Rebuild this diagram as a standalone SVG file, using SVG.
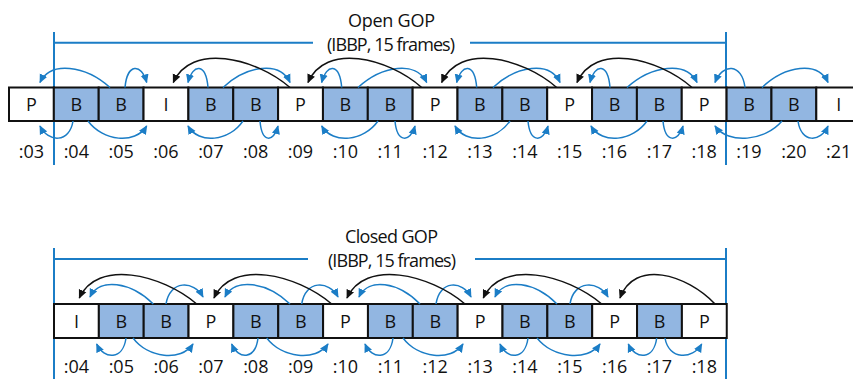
<svg xmlns="http://www.w3.org/2000/svg" width="853" height="379" viewBox="0 0 853 379">
<defs>
<marker id="ab" viewBox="0 0 10 10" refX="9" refY="5" markerWidth="9" markerHeight="9" markerUnits="userSpaceOnUse" orient="auto"><path d="M0,0.5 L10,5 L0,9.5 z" fill="#1b7dc6"/></marker>
<marker id="ak" viewBox="0 0 10 10" refX="9" refY="5" markerWidth="9" markerHeight="9" markerUnits="userSpaceOnUse" orient="auto"><path d="M0,0.5 L10,5 L0,9.5 z" fill="#111"/></marker>
</defs>
<style>
.f{stroke:#111;stroke-width:2}
.w{fill:#fff}
.b{fill:#92b6e1}
.t{font-family:"Open Sans","Liberation Sans",sans-serif;font-size:18px;fill:#111;text-anchor:middle}
.br{stroke:#1b7dc6;stroke-width:2;fill:none}
.cb{stroke:#1b7dc6;stroke-width:1.5;fill:none;marker-end:url(#ab)}
.ck{stroke:#111;stroke-width:1.5;fill:none;marker-end:url(#ak)}
</style>
<rect width="853" height="379" fill="#fff"/>

<g id="open-gop-bracket">
<path class="br" d="M54,32 V165 M726,32 V165 M54,42.7 H313 M470,42.7 H726"/>
<text class="t" x="391.5" y="26.7" textLength="87">Open GOP</text>
<text class="t" x="391" y="51" textLength="128">(IBBP, 15 frames)</text>
</g>
<g id="closed-gop-bracket">
<path class="br" d="M54,248 V379 M726,248 V379 M54,259 H308 M475,259 H726"/>
<text class="t" x="391.5" y="243.3" textLength="93">Closed GOP</text>
<text class="t" x="392" y="267" textLength="128">(IBBP, 15 frames)</text>
</g>

<g id="top-row">
<g id="t03"><rect class="f w" x="9" y="87.5" width="44.85" height="33.5"/><text class="t" x="31.4" y="110.5">P</text><text class="t" x="31.4" y="157.5">:03</text></g>
<g id="t04"><rect class="f b" x="53.85" y="87.5" width="44.85" height="33.5"/><text class="t" x="76.3" y="110.5">B</text><text class="t" x="76.3" y="157.5">:04</text></g>
<g id="t05"><rect class="f b" x="98.7" y="87.5" width="44.85" height="33.5"/><text class="t" x="121.1" y="110.5">B</text><text class="t" x="121.1" y="157.5">:05</text></g>
<g id="t06"><rect class="f w" x="143.55" y="87.5" width="44.85" height="33.5"/><text class="t" x="166" y="110.5">I</text><text class="t" x="166" y="157.5">:06</text></g>
<g id="t07"><rect class="f b" x="188.4" y="87.5" width="44.85" height="33.5"/><text class="t" x="210.8" y="110.5">B</text><text class="t" x="210.8" y="157.5">:07</text></g>
<g id="t08"><rect class="f b" x="233.25" y="87.5" width="44.85" height="33.5"/><text class="t" x="255.7" y="110.5">B</text><text class="t" x="255.7" y="157.5">:08</text></g>
<g id="t09"><rect class="f w" x="278.1" y="87.5" width="44.85" height="33.5"/><text class="t" x="300.5" y="110.5">P</text><text class="t" x="300.5" y="157.5">:09</text></g>
<g id="t10"><rect class="f b" x="322.95" y="87.5" width="44.85" height="33.5"/><text class="t" x="345.4" y="110.5">B</text><text class="t" x="345.4" y="157.5">:10</text></g>
<g id="t11"><rect class="f b" x="367.8" y="87.5" width="44.85" height="33.5"/><text class="t" x="390.2" y="110.5">B</text><text class="t" x="390.2" y="157.5">:11</text></g>
<g id="t12"><rect class="f w" x="412.65" y="87.5" width="44.85" height="33.5"/><text class="t" x="435.1" y="110.5">P</text><text class="t" x="435.1" y="157.5">:12</text></g>
<g id="t13"><rect class="f b" x="457.5" y="87.5" width="44.85" height="33.5"/><text class="t" x="479.9" y="110.5">B</text><text class="t" x="479.9" y="157.5">:13</text></g>
<g id="t14"><rect class="f b" x="502.35" y="87.5" width="44.85" height="33.5"/><text class="t" x="524.8" y="110.5">B</text><text class="t" x="524.8" y="157.5">:14</text></g>
<g id="t15"><rect class="f w" x="547.2" y="87.5" width="44.85" height="33.5"/><text class="t" x="569.6" y="110.5">P</text><text class="t" x="569.6" y="157.5">:15</text></g>
<g id="t16"><rect class="f b" x="592.05" y="87.5" width="44.85" height="33.5"/><text class="t" x="614.5" y="110.5">B</text><text class="t" x="614.5" y="157.5">:16</text></g>
<g id="t17"><rect class="f b" x="636.9" y="87.5" width="44.85" height="33.5"/><text class="t" x="659.3" y="110.5">B</text><text class="t" x="659.3" y="157.5">:17</text></g>
<g id="t18"><rect class="f w" x="681.75" y="87.5" width="44.85" height="33.5"/><text class="t" x="704.2" y="110.5">P</text><text class="t" x="704.2" y="157.5">:18</text></g>
<g id="t19"><rect class="f b" x="726.6" y="87.5" width="44.85" height="33.5"/><text class="t" x="749" y="110.5">B</text><text class="t" x="749" y="157.5">:19</text></g>
<g id="t20"><rect class="f b" x="771.45" y="87.5" width="44.85" height="33.5"/><text class="t" x="793.9" y="110.5">B</text><text class="t" x="793.9" y="157.5">:20</text></g>
<g id="t21"><rect class="f w" x="816.3" y="87.5" width="44.85" height="33.5"/><text class="t" x="838.7" y="110.5">I</text><text class="t" x="838.7" y="157.5">:21</text></g>
</g>

<g id="bottom-row">
<g id="b04"><rect class="f w" x="54" y="304" width="44.85" height="34"/><text class="t" x="76.4" y="327.5">I</text><text class="t" x="76.4" y="373">:04</text></g>
<g id="b05"><rect class="f b" x="98.85" y="304" width="44.85" height="34"/><text class="t" x="121.3" y="327.5">B</text><text class="t" x="121.3" y="373">:05</text></g>
<g id="b06"><rect class="f b" x="143.7" y="304" width="44.85" height="34"/><text class="t" x="166.1" y="327.5">B</text><text class="t" x="166.1" y="373">:06</text></g>
<g id="b07"><rect class="f w" x="188.55" y="304" width="44.85" height="34"/><text class="t" x="211" y="327.5">P</text><text class="t" x="211" y="373">:07</text></g>
<g id="b08"><rect class="f b" x="233.4" y="304" width="44.85" height="34"/><text class="t" x="255.8" y="327.5">B</text><text class="t" x="255.8" y="373">:08</text></g>
<g id="b09"><rect class="f b" x="278.25" y="304" width="44.85" height="34"/><text class="t" x="300.7" y="327.5">B</text><text class="t" x="300.7" y="373">:09</text></g>
<g id="b10"><rect class="f w" x="323.1" y="304" width="44.85" height="34"/><text class="t" x="345.5" y="327.5">P</text><text class="t" x="345.5" y="373">:10</text></g>
<g id="b11"><rect class="f b" x="367.95" y="304" width="44.85" height="34"/><text class="t" x="390.4" y="327.5">B</text><text class="t" x="390.4" y="373">:11</text></g>
<g id="b12"><rect class="f b" x="412.8" y="304" width="44.85" height="34"/><text class="t" x="435.2" y="327.5">B</text><text class="t" x="435.2" y="373">:12</text></g>
<g id="b13"><rect class="f w" x="457.65" y="304" width="44.85" height="34"/><text class="t" x="480.1" y="327.5">P</text><text class="t" x="480.1" y="373">:13</text></g>
<g id="b14"><rect class="f b" x="502.5" y="304" width="44.85" height="34"/><text class="t" x="524.9" y="327.5">B</text><text class="t" x="524.9" y="373">:14</text></g>
<g id="b15"><rect class="f b" x="547.35" y="304" width="44.85" height="34"/><text class="t" x="569.8" y="327.5">B</text><text class="t" x="569.8" y="373">:15</text></g>
<g id="b16"><rect class="f w" x="592.2" y="304" width="44.85" height="34"/><text class="t" x="614.6" y="327.5">P</text><text class="t" x="614.6" y="373">:16</text></g>
<g id="b17"><rect class="f b" x="637.05" y="304" width="44.85" height="34"/><text class="t" x="659.5" y="327.5">B</text><text class="t" x="659.5" y="373">:17</text></g>
<g id="b18"><rect class="f w" x="681.9" y="304" width="44.85" height="34"/><text class="t" x="704.3" y="327.5">P</text><text class="t" x="704.3" y="373">:18</text></g>
</g>

<g id="connectors">
<path class="cb" d="M73,121 c-3.3,22 -24.75,22 -33,5"/>
<path class="cb" d="M88,121 c14.7,20 47,24 58.7,5"/>
<path class="cb" d="M110,87.5 c-24.5,-22 -59.5,-27 -70,-5"/>
<path class="cb" d="M125,87.5 c2.2,-24.5 16.3,-24.5 21.7,-5"/>
<path class="cb" d="M208,87.5 c-2,-24.5 -15,-24.5 -20,-5"/>
<path class="cb" d="M223,87.5 c23.5,-22 57,-27 67,-5"/>
<path class="cb" d="M243,121 c-13.75,20 -44,24 -55,5"/>
<path class="cb" d="M260,121 c1.8,22 13.5,22 18,5"/>
<path class="cb" d="M341.7,87.5 c-2,-24.5 -15,-24.5 -20,-5"/>
<path class="cb" d="M358,87.5 c24,-22 58.4,-27 68.7,-5"/>
<path class="cb" d="M378,121 c-14,20 -45,24 -56.3,5"/>
<path class="cb" d="M395,121 c2,22 15,22 20,5"/>
<path class="cb" d="M476.7,87.5 c-2,-24.5 -15,-24.5 -20,-5"/>
<path class="cb" d="M493,87.5 c23.5,-22 57,-27 67,-5"/>
<path class="cb" d="M510,121 c-13.75,20 -44,24 -55,5"/>
<path class="cb" d="M528,121 c2,22 15,22 20,5"/>
<path class="cb" d="M610,87.5 c-2,-24.5 -15,-24.5 -20,-5"/>
<path class="cb" d="M627,87.5 c24.5,-22 59.5,-27 70,-5"/>
<path class="cb" d="M647,121 c-14,20 -44.8,24 -56,5"/>
<path class="cb" d="M663,121 c2,22 15,22 20,5"/>
<path class="cb" d="M745,87.5 c-3,-24.5 -22.5,-24.5 -30,-5"/>
<path class="cb" d="M762,87.5 c23.1,-22 56.1,-27 66,-5"/>
<path class="cb" d="M782,121 c-16.75,20 -53.6,24 -67,5"/>
<path class="cb" d="M798,121 c3,22 22.5,22 30,5"/>
<path class="ck" d="M290,87.5 c-35,-30 -99.2,-45 -116.7,-5"/>
<path class="ck" d="M421.7,87.5 c-34.1,-30 -96.6,-45 -113.7,-5"/>
<path class="ck" d="M556.7,87.5 c-34.5,-30 -97.75,-45 -115,-5"/>
<path class="ck" d="M692,87.5 c-34.5,-30 -97.75,-45 -115,-5"/>

<path class="cb" d="M126,338 c-2.9,22 -22,22 -29.3,6"/>
<path class="cb" d="M133,338 c15,20 48,24 60,6"/>
<path class="cb" d="M153.3,304 c-22.2,-22 -53.8,-27 -63.3,-7"/>
<path class="cb" d="M166,304 c3.7,-24 27.75,-24 37,-7"/>
<path class="cb" d="M258,338 c-2.6,22 -19.7,22 -26.3,6"/>
<path class="cb" d="M266.7,338 c15.3,20 49,24 61.3,6"/>
<path class="cb" d="M290,304 c-22.75,-22 -55.25,-27 -65,-7"/>
<path class="cb" d="M301.7,304 c3.6,-24 27.2,-24 36.3,-7"/>
<path class="cb" d="M393,338 c-2.8,22 -21,22 -28,6"/>
<path class="cb" d="M403,338 c15,20 48,24 60,6"/>
<path class="cb" d="M420,304 c-21.35,-22 -51.85,-27 -61,-7"/>
<path class="cb" d="M436,304 c3.5,-24 26.25,-24 35,-7"/>
<path class="cb" d="M528,338 c-2.8,22 -21,22 -28,6"/>
<path class="cb" d="M537,338 c15.75,20 50.4,24 63,6"/>
<path class="cb" d="M557,304 c-21.7,-22 -52.7,-27 -62,-7"/>
<path class="cb" d="M570,304 c3.8,-24 28.5,-24 38,-7"/>
<path class="cb" d="M656.7,338 c-2.8,22 -21.3,22 -28.4,6"/>
<path class="cb" d="M665,338 c3.7,22 27.5,22 36.7,6"/>
<path class="ck" d="M196.7,304 c-35.2,-30 -99.8,-45 -117.4,-6"/>
<path class="ck" d="M331.7,304 c-35.3,-30 -100,-45 -117.7,-6"/>
<path class="ck" d="M465,304 c-35.4,-30 -100.3,-45 -118,-6"/>
<path class="ck" d="M601.7,304 c-35.5,-30 -100.6,-45 -118.4,-6"/>
<path class="ck" d="M715,304 c-28.5,-30 -80.75,-45 -95,-6"/>
</g>
</svg>
